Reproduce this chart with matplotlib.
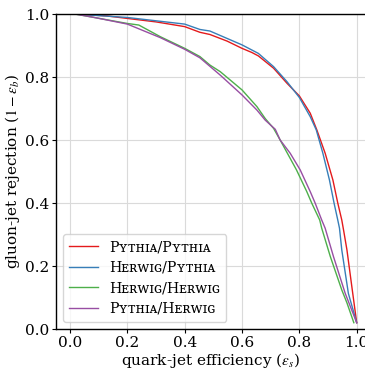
import matplotlib
matplotlib.use("Agg")
import matplotlib.pyplot as plt

plt.rcParams['font.family'] = ['DejaVu Serif']
plt.rcParams['mathtext.fontset'] = 'stix'

labels = ["Pʏᴛʜɪᴀ/Pʏᴛʜɪᴀ", "Hᴇʀᴡɪɢ/Pʏᴛʜɪᴀ", "Hᴇʀᴡɪɢ/Hᴇʀᴡɪɢ", "Pʏᴛʜɪᴀ/Hᴇʀᴡɪɢ"]
colors = ["#e41a1c", "#377eb8", "#4daf4a", "#984ea3"]

pp_x = [0.017, 0.128, 0.2, 0.3, 0.4, 0.453, 0.488, 0.548, 0.6, 0.634, 0.657, 0.71, 0.757, 0.8,
        0.838, 0.861, 0.89, 0.917, 0.934, 0.948, 0.955, 0.966, 0.983, 1.0]
pp_y = [1.0, 0.994, 0.986, 0.975, 0.96, 0.942, 0.935, 0.914, 0.891, 0.878, 0.867, 0.828, 0.78, 0.74,
        0.685, 0.632, 0.558, 0.473, 0.4, 0.346, 0.31, 0.251, 0.135, 0.02]

hp_x = [0.017, 0.2, 0.4, 0.453, 0.488, 0.6, 0.657, 0.71, 0.757, 0.8, 0.838, 0.859, 0.882, 0.905,
        0.921, 0.934, 0.94, 0.948, 0.971, 1.0]
hp_y = [1.0, 0.989, 0.968, 0.951, 0.946, 0.902, 0.875, 0.833, 0.785, 0.735, 0.674, 0.632, 0.558, 0.473,
        0.4, 0.346, 0.32, 0.251, 0.113, 0.02]

hh_x = [0.017, 0.2, 0.24, 0.315, 0.4, 0.453, 0.488, 0.524, 0.6, 0.652, 0.681, 0.71, 0.733, 0.79,
        0.826, 0.843, 0.871, 0.878, 0.908, 0.948, 0.966, 0.99]
hh_y = [1.0, 0.97, 0.965, 0.928, 0.891, 0.865, 0.838, 0.817, 0.759, 0.706, 0.668, 0.637, 0.6, 0.505,
        0.436, 0.4, 0.346, 0.32, 0.23, 0.124, 0.083, 0.02]

ph_x = [0.017, 0.08, 0.2, 0.315, 0.4, 0.453, 0.524, 0.6, 0.652, 0.681, 0.716, 0.733, 0.768, 0.803,
        0.838, 0.855, 0.878, 0.89, 0.919, 0.96, 1.0]
ph_y = [1.0, 0.99, 0.968, 0.925, 0.888, 0.861, 0.806, 0.743, 0.695, 0.663, 0.634, 0.6, 0.558, 0.505,
        0.436, 0.4, 0.346, 0.32, 0.23, 0.113, 0.02]

fig = plt.figure(figsize=(3.65, 3.69), dpi=100)
ax = fig.add_axes([0.1534, 0.1084, 0.8466, 0.8536])

for xs, ys, lab, c in [(pp_x, pp_y, labels[0], colors[0]), (hp_x, hp_y, labels[1], colors[1]),
                       (hh_x, hh_y, labels[2], colors[2]), (ph_x, ph_y, labels[3], colors[3])]:
    ax.plot(xs, ys, color=c, lw=1.0, label=lab)

ax.set_xlim(-0.049, 1.029)
ax.set_ylim(0, 1.0)
ax.set_xticks([0.0, 0.2, 0.4, 0.6, 0.8, 1.0])
ax.set_yticks([0.0, 0.2, 0.4, 0.6, 0.8, 1.0])
ax.grid(True, color='#dadada', lw=0.8)
ax.set_axisbelow(True)
ax.spines['right'].set_visible(False)
for s in ['left', 'bottom', 'top']:
    ax.spines[s].set_linewidth(1.0)
ax.tick_params(labelsize=11, length=3, pad=2)
ax.set_xlabel(r"quark-jet efficiency ($\epsilon_s$)", fontsize=11, labelpad=1)
ax.set_ylabel(r"gluon-jet rejection ($1-\epsilon_b$)", fontsize=11, labelpad=2)
ax.legend(loc='lower left', fontsize=10.2, frameon=True, handlelength=2.0,
          borderaxespad=0.5, labelspacing=0.45, borderpad=0.45)

fig.savefig("out.png", dpi=100)
